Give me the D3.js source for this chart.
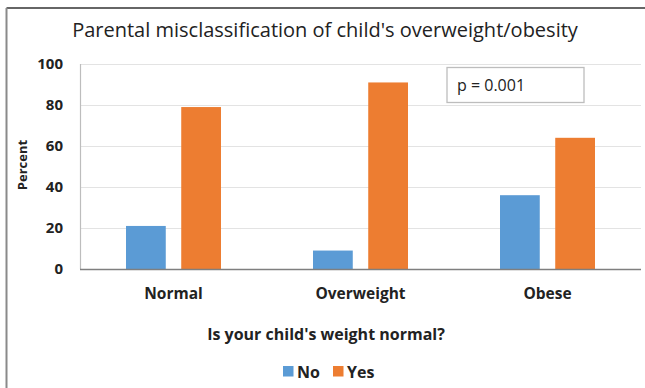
<!DOCTYPE html>
<html>
<head>
<meta charset="utf-8">
<script src="https://cdn.jsdelivr.net/npm/d3@7"></script>
<style>
  html, body { margin: 0; padding: 0; background: #fff; }
  svg { display: block; }
  text { font-family: "Open Sans", "Noto Sans", sans-serif; fill: #222; }
</style>
</head>
<body>
<svg id="chart" width="645" height="388"></svg>
<script>
// Share of parents answering "Is your child's weight normal?" by actual weight group
const categories = ["Normal", "Overweight", "Obese"];
const seriesNames = ["No", "Yes"];
const noValues = [21, 9, 36];
const yesValues = [79, 91, 64];
const yTicks = [0, 20, 40, 60, 80, 100];
const colors = ["#5B9BD5", "#ED7D31"];

const rows = categories.map((c, i) => ({ category: c, No: noValues[i], Yes: yesValues[i] }));

const svg = d3.select("#chart");
const W = 645, H = 388;
const plot = { left: 80, right: 641, top: 64, bottom: 269 };

// outer frame (top and left edges)
svg.append("line").attr("x1", 6.5).attr("x2", W).attr("y1", 8).attr("y2", 8)
  .attr("stroke", "#666").attr("stroke-width", 2);
svg.append("line").attr("x1", 6.5).attr("x2", 6.5).attr("y1", 8).attr("y2", H)
  .attr("stroke", "#8a8a8a").attr("stroke-width", 2);

const x0 = d3.scaleBand().domain(categories).range([plot.left, plot.right]).paddingInner(0).paddingOuter(0);
const x1 = d3.scaleBand().domain(seriesNames).range([-47.5, 47.5]).paddingInner(0.28);
const y = d3.scaleLinear().domain([0, 100]).range([plot.bottom, plot.top]);

// gridlines
svg.append("g").selectAll("line").data(yTicks.filter(t => t > 0)).join("line")
  .attr("x1", plot.left).attr("x2", plot.right)
  .attr("y1", d => y(d) + 0.5).attr("y2", d => y(d) + 0.5)
  .attr("stroke", "#e3e3e3").attr("stroke-width", 1.2);

// vertical value axis line
svg.append("line").attr("x1", plot.left + 0.5).attr("x2", plot.left + 0.5)
  .attr("y1", plot.top).attr("y2", plot.bottom)
  .attr("stroke", "#bdbdbd").attr("stroke-width", 1.2);

// bars
const groups = svg.append("g").selectAll("g").data(rows).join("g")
  .attr("transform", d => `translate(${x0(d.category) + x0.bandwidth() / 2},0)`);
groups.selectAll("rect").data(d => seriesNames.map((s, i) => ({ key: s, value: d[s], i })))
  .join("rect")
  .attr("x", d => x1(d.key))
  .attr("width", x1.bandwidth())
  .attr("y", d => y(d.value))
  .attr("height", d => y(0) - y(d.value))
  .attr("fill", d => colors[d.i]);

// baseline
svg.append("line").attr("x1", plot.left).attr("x2", plot.right)
  .attr("y1", plot.bottom + 0.5).attr("y2", plot.bottom + 0.5)
  .attr("stroke", "#7f7f7f").attr("stroke-width", 1.6);

// y axis tick labels
const yAxis = d3.axisLeft(y).tickValues(yTicks).tickSize(0).tickPadding(17);
const ya = svg.append("g").attr("transform", `translate(${plot.left},0)`).call(yAxis);
ya.select(".domain").remove();
ya.selectAll("text").attr("font-size", 15).attr("font-weight", "bold")
  .attr("font-family", "'Open Sans', sans-serif").attr("fill", "#222");

// x axis category labels
const xAxis = d3.axisBottom(x0).tickSize(0).tickPadding(19);
const xa = svg.append("g").attr("transform", `translate(0,${plot.bottom})`).call(xAxis);
xa.select(".domain").remove();
xa.selectAll("text").attr("font-size", 15.5).attr("font-weight", "bold")
  .attr("font-family", "'Open Sans', sans-serif").attr("fill", "#222");

// titles
svg.append("text").attr("x", 325).attr("y", 37).attr("text-anchor", "middle")
  .attr("font-size", 20).text("Parental misclassification of child's overweight/obesity");
svg.append("text").attr("x", 326).attr("y", 340).attr("text-anchor", "middle")
  .attr("font-size", 16).attr("font-weight", "bold").text("Is your child's weight normal?");
svg.append("text").attr("transform", "translate(27,165) rotate(-90)").attr("text-anchor", "middle")
  .attr("font-size", 13).attr("font-weight", "bold").text("Percent");

// annotation box
svg.append("rect").attr("x", 447).attr("y", 67.5).attr("width", 137).attr("height", 35)
  .attr("fill", "#fff").attr("stroke", "#bdbdbd").attr("stroke-width", 1.3);
svg.append("text").attr("x", 457).attr("y", 91).attr("font-size", 16).text("p = 0.001");

// legend
const legend = svg.append("g").attr("transform", "translate(283,366)");
const items = legend.selectAll("g").data(seriesNames).join("g")
  .attr("transform", (d, i) => `translate(${i === 0 ? 0 : 50},0)`);
items.append("rect").attr("width", 10.5).attr("height", 10.5).attr("fill", (d, i) => colors[i]);
items.append("text").attr("x", 14).attr("y", 11.5).attr("font-size", 16).attr("font-weight", "bold").text(d => d);
</script>
</body>
</html>
